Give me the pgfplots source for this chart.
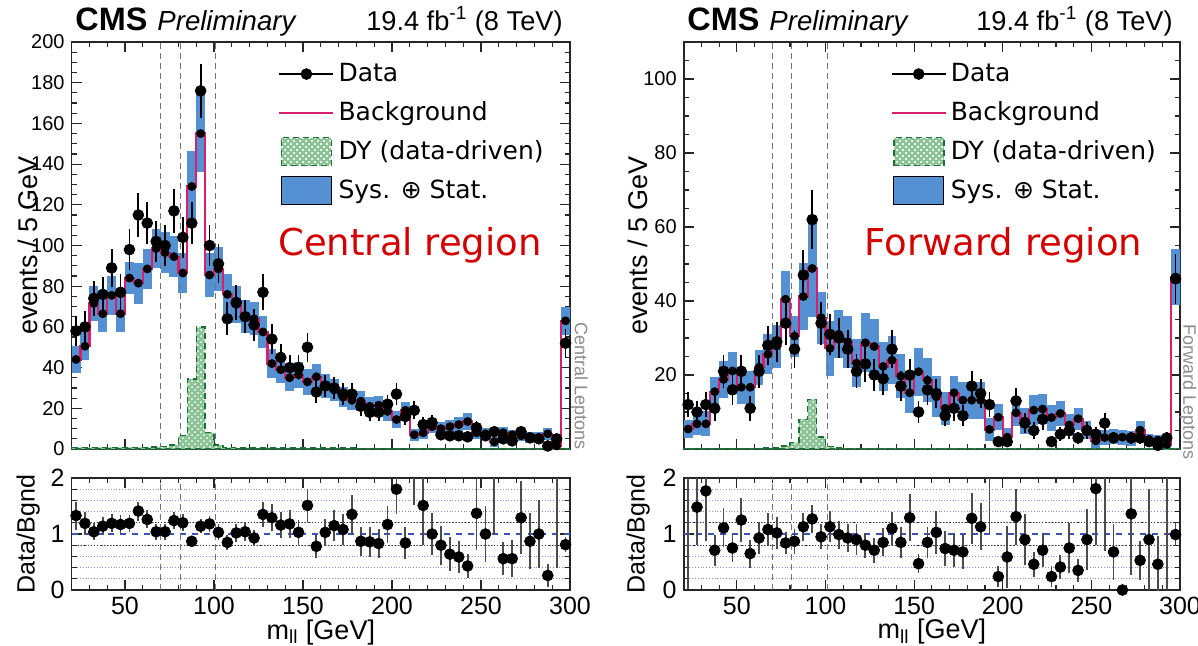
\documentclass[border=0pt]{standalone}
\usepackage{fontspec}
\setmainfont{Liberation Sans}
\newfontfamily\dejavu{DejaVu Sans}
\usepackage{pgfplots}
\pgfplotsset{compat=1.18}
\usepackage{pgfplotstable}
\usetikzlibrary{patterns}

\definecolor{bandblue}{RGB}{84,144,210}
\definecolor{bkgmag}{RGB}{214,32,110}
\definecolor{dyfill}{RGB}{140,195,150}
\definecolor{dyline}{RGB}{30,110,55}
\definecolor{regred}{RGB}{210,0,0}
\definecolor{gridblue}{RGB}{60,85,180}

% ---------------- central region ----------------
% bin low edge, background, uncertainty, DY
\pgfplotstableread{
x bkg err dy
20 44 6.5 0.8
25 50.5 7 0.8
30 71.5 8.5 0.8
35 66.5 9 0.8
40 75.5 9.5 0.8
45 66.5 9 0.8
50 84 8 0.8
55 81.5 10 0.8
60 88.5 10 0.8
65 98.5 9.5 1.0
70 96.5 10 1.2
75 94.5 10 2
80 86.5 10 6.5
85 129 17.5 34.5
90 155 19 60
95 85.5 11 8
100 88.5 11 2
105 76 10 0.8
110 71 9 0.6
115 65 8 0.5
120 64 8 0.5
125 57.5 8 0.5
130 42 7 0.5
135 39 6.5 0.5
140 35 6.5 0.5
145 36.5 6.5 0.5
150 33 6.5 0.4
155 35.5 6.5 0.4
160 31 6 0.4
165 29 5.5 0.4
170 25.5 5 0.4
175 24 5 0.4
180 23.5 5 0.3
185 21 4.5 0.3
190 21.5 4.5 0.3
195 18.5 4.5 0.3
200 14.5 4 0.3
205 19 4 0.3
210 7 3 0.3
215 8 3 0.3
220 11 3 0.3
225 10 3.5 0.3
230 11 3.5 0.3
235 12 3.5 0.3
240 13.5 4 0.3
245 8 3 0.3
250 7.5 3 0.3
255 3.5 2.5 0.3
260 8 3 0.3
265 7 2.5 0.3
270 6.5 2.5 0.3
275 5.7 2.5 0.3
280 5.7 2.5 0.3
285 7.5 3 0.3
290 1.5 2 0.3
295 63 7 0.3
300 63 7 0.3
}\bkgC

% bin centre, events, error
\pgfplotstableread{
x y e
22.5 58 7.6
27.5 60 7.7
32.5 74 8.6
37.5 76 8.7
42.5 89 9.4
47.5 77 8.8
52.5 98 9.9
57.5 115 10.7
62.5 111 10.5
67.5 102 10.1
72.5 100 10
77.5 117 10.8
82.5 104 10.2
87.5 111 10.5
92.5 176 13.3
97.5 100 10
102.5 91 9.5
107.5 64 8
112.5 72 8.5
117.5 65 8.1
122.5 61 7.8
127.5 77 8.8
132.5 54 7.3
137.5 45 6.7
142.5 40 6.3
147.5 40 6.3
152.5 50 7.1
157.5 28 5.3
162.5 31 5.6
167.5 30 5.5
172.5 27 5.2
177.5 27 5.2
182.5 21 4.6
187.5 18 4.2
192.5 18 4.2
197.5 22 4.7
202.5 27 5.2
207.5 16 4
212.5 19 4.4
217.5 12 3.5
222.5 13 3.6
227.5 7 2.6
232.5 6.5 2.5
237.5 6.5 2.5
242.5 6 2.4
247.5 10.5 3.2
252.5 6.5 2.5
257.5 8.5 2.9
262.5 5 2.2
267.5 4 2
272.5 8.5 2.9
277.5 5.5 2.3
282.5 5 2.2
287.5 1.5 1.2
292.5 5 2.2
297.5 52 7.2
}\dataC

% bin centre, data/background, error
\pgfplotstableread{
x r e
22.5 1.33 0.25
27.5 1.19 0.21
32.5 1.04 0.15
37.5 1.14 0.16
42.5 1.19 0.16
47.5 1.17 0.17
52.5 1.19 0.15
57.5 1.41 0.17
62.5 1.26 0.16
67.5 1.04 0.14
72.5 1.04 0.14
77.5 1.24 0.15
82.5 1.20 0.15
87.5 0.87 0.10
92.5 1.14 0.12
97.5 1.18 0.15
102.5 1.03 0.14
107.5 0.85 0.13
112.5 1.02 0.16
117.5 1.04 0.17
122.5 0.93 0.15
127.5 1.35 0.22
132.5 1.29 0.24
137.5 1.16 0.24
142.5 1.18 0.25
147.5 1.03 0.22
152.5 1.51 0.30
157.5 0.78 0.20
162.5 1.03 0.24
167.5 1.15 0.28
172.5 1.08 0.28
177.5 1.35 0.35
182.5 0.87 0.26
187.5 0.86 0.27
192.5 0.83 0.26
197.5 1.17 0.33
202.5 1.80 0.45
207.5 0.84 0.28
212.5 2.2 0.68
217.5 1.51 0.7
222.5 1.0 0.38
227.5 0.80 0.35
232.5 0.64 0.3
237.5 0.59 0.28
242.5 0.43 0.22
247.5 1.37 0.65
252.5 1.0 0.5
257.5 2.4 1.4
262.5 0.56 0.3
267.5 0.56 0.33
272.5 1.29 0.65
277.5 0.87 0.5
282.5 1.0 0.6
287.5 0.26 0.2
292.5 2.6 2.2
297.5 0.81 0.13
}\ratioC

% ---------------- forward region ----------------
\pgfplotstableread{
x bkg err dy
20 5.4 2.5 0.2
25 6.8 3 0.2
30 6.8 3.4 0.2
35 15.5 4 0.2
40 18.8 5 0.2
45 21.1 5 0.2
50 16.7 4.5 0.2
55 16.7 4.5 0.2
60 22.1 4.7 0.2
65 25.6 5.4 0.3
70 27.8 5.8 0.3
75 40.5 7.7 0.8
80 30.5 5.5 1.7
85 41.2 9 8
90 48.8 13 13.4
95 35.5 7 3.3
100 27.2 7.5 0.6
105 31 6.5 0.3
110 29 7 0.2
115 23.2 6.5 0.2
120 28.7 8 0.2
125 27.7 7.5 0.2
130 22.3 6.5 0.2
135 24 6.5 0.2
140 19.7 6 0.2
145 15.2 5.5 0.2
150 20.9 6.5 0.2
155 18.6 6 0.2
160 14.1 5.5 0.2
165 11 4.5 0.2
170 15.2 4.5 0.2
175 13.2 5 0.2
180 13.2 5 0.2
185 13.2 5 0.2
190 5.3 3 0.2
195 8.6 3.5 0.2
200 3.2 2.5 0.2
205 9.8 3.5 0.2
210 7.6 3.5 0.2
215 10.5 4 0.2
220 10.8 4 0.2
225 8.5 3.5 0.2
230 9.6 3.5 0.2
235 6.5 3 0.2
240 8.2 3 0.2
245 5.2 2.5 0.2
250 2.2 2 0.2
255 3.1 2 0.2
260 3.4 2 0.2
265 3.2 2 0.2
270 2.8 2 0.2
275 5.1 2.5 0.2
280 2.6 1.5 0.2
285 2.4 1.5 0.2
290 1.2 1.5 0.2
295 46.5 7.5 0.2
300 46.5 7.5 0.2
}\bkgF

\pgfplotstableread{
x y e
22.5 12 3.4
27.5 10 3.1
32.5 12 3.4
37.5 11 3.3
42.5 21 4.5
47.5 16 4
52.5 21 4.5
57.5 11 3.3
62.5 21 4.5
67.5 28 5.3
72.5 29 5.4
77.5 34 5.8
82.5 27 5.2
87.5 47 6.8
92.5 62 7.9
97.5 34 5.8
102.5 31 5.5
107.5 30 5.4
112.5 27 5.2
117.5 21 4.6
122.5 23 4.8
127.5 20 4.4
132.5 19 4.3
137.5 27 5.2
142.5 17 4.1
147.5 20 4.4
152.5 10 3.1
157.5 16 4
162.5 15 3.9
167.5 9 2.9
172.5 11 3.3
177.5 9 2.9
182.5 17 4.1
187.5 15 3.8
192.5 12 3.4
197.5 2 1.3
202.5 2 1.3
207.5 13 3.6
212.5 7 2.6
217.5 5 2.2
222.5 8 2.8
227.5 2 1.3
232.5 4 1.9
237.5 5 2.2
242.5 3 1.6
247.5 5 2.2
252.5 4 1.9
257.5 7 2.6
262.5 3 1.6
272.5 3 1.6
277.5 3 1.6
282.5 2 1.3
287.5 1 0.9
292.5 3 1.6
297.5 46 6.8
}\dataF

\pgfplotstableread{
x r e
22.5 2.17 2.15
27.5 1.48 0.68
32.5 1.77 0.9
37.5 0.71 0.28
42.5 1.11 0.35
47.5 0.75 0.25
52.5 1.25 0.4
57.5 0.65 0.25
62.5 0.93 0.28
67.5 1.08 0.3
72.5 1.02 0.28
77.5 0.84 0.2
82.5 0.87 0.22
87.5 1.13 0.25
92.5 1.27 0.25
97.5 0.95 0.22
102.5 1.13 0.28
107.5 0.99 0.25
112.5 0.93 0.25
117.5 0.9 0.27
122.5 0.8 0.22
127.5 0.71 0.22
132.5 0.85 0.25
137.5 1.1 0.3
142.5 0.85 0.28
147.5 1.29 0.42
152.5 0.47 0.17
157.5 0.85 0.28
162.5 1.03 0.38
167.5 0.74 0.32
172.5 0.71 0.3
177.5 0.68 0.3
182.5 1.28 0.45
187.5 1.13 0.42
192.5 2.3 1.3
197.5 0.24 0.18
202.5 0.59 0.55
207.5 1.31 0.5
212.5 0.9 0.45
217.5 0.46 0.22
222.5 0.71 0.3
227.5 0.24 0.18
232.5 0.41 0.22
237.5 0.75 0.45
242.5 0.35 0.2
247.5 0.9 0.55
252.5 1.81 1.0
257.5 2.5 1.8
262.5 0.68 0.5
267.5 0.0 0.0
272.5 1.36 1.1
277.5 0.53 0.35
282.5 0.9 0.9
287.5 0.46 0.5
292.5 2.6 2.6
297.5 0.99 0.2
}\ratioF

\pgfplotsset{
  hepframe/.style={
    scale only axis, xmin=20, xmax=300,
    axis line style={line width=0.8pt, black!85},
    tick align=inside, tick pos=both,
    major tick length=5pt, minor tick length=2.6pt,
    every tick/.append style={black!85, line width=0.6pt},
    xtick={50,100,...,300}, minor xtick={20,30,...,300},
    /pgf/number format/assume math mode=true,
  },
  mainpanel/.style={
    hepframe, height=203.5pt, ymin=0, xticklabels={},
    ylabel={events / 5 GeV},
    ylabel style={font=\fontsize{13.5}{14}\selectfont, anchor=center},
    yticklabel style={font=\fontsize{10}{10}\selectfont},
    legend cell align=left,
    reverse legend,
    legend style={draw=none, fill=none, anchor=north west,
      font=\dejavu\fontsize{12.5}{13}\selectfont, row sep=4.5pt,
      nodes={inner sep=2pt},
      /tikz/every even column/.append style={column sep=3pt}},
  },
  ratiopanel/.style={
    hepframe, height=56pt, ymin=0, ymax=2, ytick={0,1,2},
    minor ytick={0.2,0.4,0.6,0.8,1.2,1.4,1.6,1.8},
    yminorgrids, minor grid style={densely dotted, gridblue!65, line width=0.6pt},
    ylabel={Data/Bgnd},
    ylabel style={font=\fontsize{12.5}{13}\selectfont, anchor=center},
    xlabel={m\textsubscript{ll} [GeV]},
    xlabel style={font=\fontsize{13.5}{14}\selectfont, at={(axis description cs:0.5,-0.375)}, anchor=center},
    ticklabel style={font=\fontsize{12.5}{13}\selectfont},
  },
  % uncertainty band: each bin is a vertical bar one bin wide
  bandbins/.style={only marks, mark=none,
    error bars/y dir=both, error bars/y explicit, error bars/error mark=none,
    error bars/error bar style={line width=#1, bandblue, line cap=butt}},
  datapts/.style={only marks, mark=*, mark size=2.7pt, black,
    error bars/y dir=both, error bars/y explicit, error bars/error mark=none,
    error bars/error bar style={line width=0.9pt, black}},
  ratiopts/.style={only marks, mark=*, mark size=2.7pt, black,
    error bars/y dir=both, error bars/y explicit, error bars/error mark=none,
    error bars/error bar style={line width=0.9pt, black!70}},
  zwin/.style={forget plot, densely dashed, black!55, line width=0.5pt},
}

\newcommand{\legData}{\draw[black,line width=0.8pt] (0pt,0pt)--(27pt,0pt); \fill[black] (13.5pt,0pt) circle (2.7pt);}
\newcommand{\legBkg}{\draw[bkgmag,line width=1.1pt] (0pt,0pt)--(27pt,0pt);}
\newcommand{\legDY}{\draw[fill=dyfill,draw=dyline,densely dashed,line width=0.8pt,postaction={pattern=crosshatch dots,pattern color=white}] (1pt,-7pt) rectangle (26pt,7pt);}
\newcommand{\legSys}{\draw[fill=bandblue,draw=black,line width=0.6pt] (1pt,-7pt) rectangle (26pt,7pt);}

\begin{document}
\begin{tikzpicture}
\useasboundingbox (0pt,0pt) rectangle (599pt,-322.5pt);

% ================= central region, distribution =================
\begin{axis}[mainpanel, at={(35.8pt,-21pt)}, anchor=north west, width=249.2pt,
  ymax=200, ytick={0,20,...,200}, minor y tick num=3,
  ylabel style={at={(axis description cs:-0.087,0.5)}},
  legend style={at={(axis description cs:0.402,0.968)}},
  extra description/.code={
    \node[rotate=-90, font=\fontsize{9}{9}\selectfont, text=black!45] at (1.019,0.155) {Central Leptons};
  }]
  \addplot[legend image code/.code={\legSys}, bandbins=4.46pt] table[x expr=\thisrow{x}+2.5, y=bkg, y error=err] {\bkgC};
  \addlegendentry{Sys. ⊕ Stat.}
  \addplot[zwin] coordinates {(70,0) (70,200)};
  \addplot[zwin] coordinates {(81,0) (81,200)};
  \addplot[zwin] coordinates {(101,0) (101,200)};
  \addplot[const plot mark left, fill=dyfill, draw=dyline, densely dashed, line width=0.7pt,
    postaction={pattern=crosshatch dots, pattern color=white}, legend image code/.code={\legDY}]
    table[x=x, y=dy] {\bkgC} \closedcycle;
  \addlegendentry{DY (data-driven)}
  \addplot[const plot mark left, bkgmag, line width=1.1pt, legend image code/.code={\legBkg}] table[x=x, y=bkg] {\bkgC};
  \addlegendentry{Background}
  \addplot[legend image code/.code={\legData}, datapts] table[x=x, y=y, y error=e] {\dataC};
  \addlegendentry{Data}
  \node[font=\dejavu\fontsize{18.5}{20}\selectfont, text=regred] at (axis description cs:0.679,0.501) {Central region};
\end{axis}

% ================= central region, ratio =================
\begin{axis}[ratiopanel, at={(35.8pt,-239pt)}, anchor=north west, width=249.2pt,
  ylabel style={at={(axis description cs:-0.087,0.5)}}]
  \addplot[forget plot, densely dotted, black!80, line width=0.6pt] coordinates {(20,0.8) (300,0.8)};
  \addplot[forget plot, densely dotted, black!80, line width=0.6pt] coordinates {(20,1.2) (300,1.2)};
  \addplot[forget plot, dashed, gridblue, line width=0.7pt] coordinates {(20,1) (300,1)};
  \addplot[zwin] coordinates {(70,0) (70,2)};
  \addplot[zwin] coordinates {(81,0) (81,2)};
  \addplot[zwin] coordinates {(101,0) (101,2)};
  \addplot[ratiopts] table[x=x, y=r, y error=e] {\ratioC};
\end{axis}

% ================= forward region, distribution =================
\begin{axis}[mainpanel, at={(341.85pt,-21pt)}, anchor=north west, width=248.15pt,
  ymax=110, ytick={20,40,...,100}, minor ytick={0,5,...,110},
  ylabel style={at={(axis description cs:-0.092,0.5)}},
  legend style={at={(axis description cs:0.404,0.968)}},
  extra description/.code={
    \node[rotate=-90, font=\fontsize{9}{9}\selectfont, text=black!45] at (1.016,0.14) {Forward Leptons};
  }]
  \addplot[legend image code/.code={\legSys}, bandbins=4.44pt] table[x expr=\thisrow{x}+2.5, y=bkg, y error=err] {\bkgF};
  \addlegendentry{Sys. ⊕ Stat.}
  \addplot[zwin] coordinates {(70,0) (70,110)};
  \addplot[zwin] coordinates {(81,0) (81,110)};
  \addplot[zwin] coordinates {(101,0) (101,110)};
  \addplot[const plot mark left, fill=dyfill, draw=dyline, densely dashed, line width=0.7pt,
    postaction={pattern=crosshatch dots, pattern color=white}, legend image code/.code={\legDY}]
    table[x=x, y=dy] {\bkgF} \closedcycle;
  \addlegendentry{DY (data-driven)}
  \addplot[const plot mark left, bkgmag, line width=1.1pt, legend image code/.code={\legBkg}] table[x=x, y=bkg] {\bkgF};
  \addlegendentry{Background}
  \addplot[legend image code/.code={\legData}, datapts] table[x=x, y=y, y error=e] {\dataF};
  \addlegendentry{Data}
  \node[font=\dejavu\fontsize{18.5}{20}\selectfont, text=regred] at (axis description cs:0.644,0.501) {Forward region};
\end{axis}

% ================= forward region, ratio =================
\begin{axis}[ratiopanel, at={(341.85pt,-239pt)}, anchor=north west, width=248.15pt,
  ylabel style={at={(axis description cs:-0.092,0.5)}}]
  \addplot[forget plot, densely dotted, black!80, line width=0.6pt] coordinates {(20,0.8) (300,0.8)};
  \addplot[forget plot, densely dotted, black!80, line width=0.6pt] coordinates {(20,1.2) (300,1.2)};
  \addplot[forget plot, dashed, gridblue, line width=0.7pt] coordinates {(20,1) (300,1)};
  \addplot[zwin] coordinates {(70,0) (70,2)};
  \addplot[zwin] coordinates {(81,0) (81,2)};
  \addplot[zwin] coordinates {(101,0) (101,2)};
  \addplot[ratiopts] table[x=x, y=r, y error=e] {\ratioF};
\end{axis}

% ================= headers =================
\node[anchor=base west, inner sep=0pt, font=\bfseries\fontsize{16.2}{17}\selectfont] at (37.5pt,-15pt) {CMS};
\node[anchor=base west, inner sep=0pt, font=\itshape\fontsize{13.8}{14}\selectfont] at (78.5pt,-15pt) {Preliminary};
\node[anchor=base east, inner sep=0pt, font=\fontsize{13.6}{14}\selectfont] at (281.5pt,-15pt) {19.4 fb\textsuperscript{-1} (8 TeV)};
\node[anchor=base west, inner sep=0pt, font=\bfseries\fontsize{16.2}{17}\selectfont] at (343.5pt,-15pt) {CMS};
\node[anchor=base west, inner sep=0pt, font=\itshape\fontsize{13.8}{14}\selectfont] at (384.5pt,-15pt) {Preliminary};
\node[anchor=base east, inner sep=0pt, font=\fontsize{13.6}{14}\selectfont] at (586.5pt,-15pt) {19.4 fb\textsuperscript{-1} (8 TeV)};
\end{tikzpicture}
\end{document}
